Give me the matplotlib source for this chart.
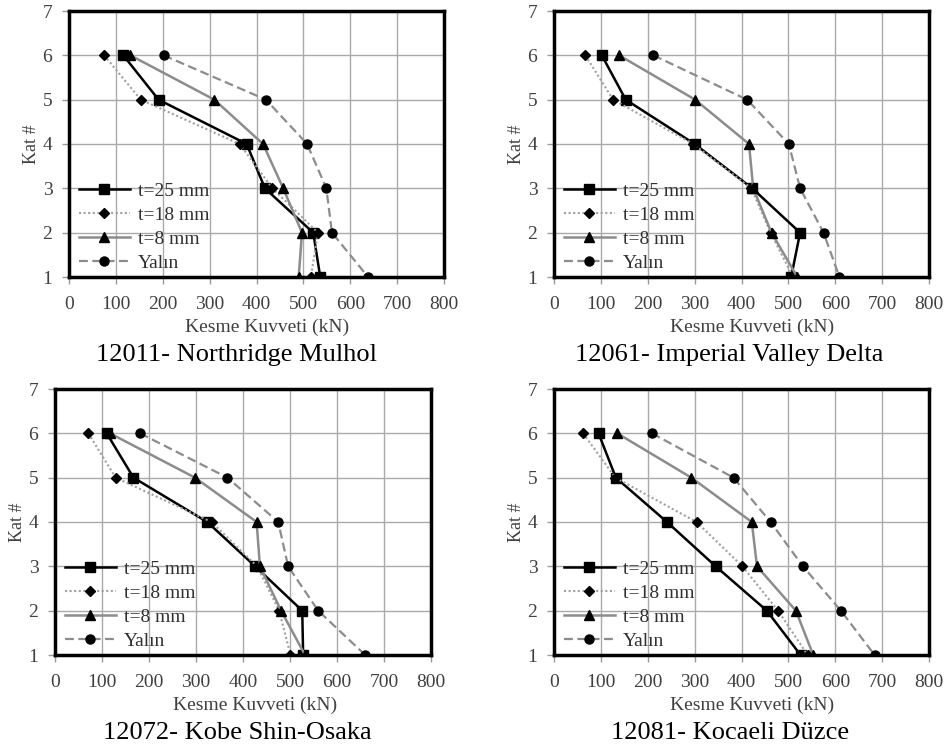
import numpy as np
import matplotlib as mpl
mpl.use('Agg')
import matplotlib.pyplot as plt

plt.rcParams['font.family'] = ['Liberation Serif', 'DejaVu Serif']

floors = [6, 5, 4, 3, 2, 1]
labels = ['t=25 mm', 't=18 mm', 't=8 mm', 'Yalın']

# 12011- Northridge Mulhol
north_t25 = [116, 191, 379, 418, 521, 536]
north_t18 = [75, 153, 364, 434, 531, 516]
north_t8 = [131, 310, 414, 457, 497, 490]
north_bare = [202, 420, 508, 549, 561, 638]

# 12061- Imperial Valley Delta
imper_t25 = [102, 153, 300, 423, 525, 506]
imper_t18 = [67, 126, 297, 421, 462, 510]
imper_t8 = [139, 301, 416, 425, 464, 519]
imper_bare = [212, 412, 501, 525, 575, 609]

# 12072- Kobe Shin-Osaka
kobe_t25 = [110, 167, 324, 426, 526, 528]
kobe_t18 = [71, 129, 333, 430, 477, 501]
kobe_t8 = [117, 298, 429, 436, 481, 532]
kobe_bare = [181, 367, 475, 496, 560, 660]

# 12081- Kocaeli Düzce
koca_t25 = [95, 132, 241, 345, 454, 526]
koca_t18 = [62, 131, 304, 402, 478, 541]
koca_t8 = [135, 293, 422, 433, 516, 553]
koca_bare = [209, 383, 462, 531, 612, 684]

panels = [
    ('12011- Northridge Mulhol', [north_t25, north_t18, north_t8, north_bare]),
    ('12061- Imperial Valley Delta', [imper_t25, imper_t18, imper_t8, imper_bare]),
    ('12072- Kobe Shin-Osaka', [kobe_t25, kobe_t18, kobe_t8, kobe_bare]),
    ('12081- Kocaeli Düzce', [koca_t25, koca_t18, koca_t8, koca_bare]),
]

styles = [
    dict(color='black', ls='-', lw=1.8, marker='s', ms=6.5),
    dict(color='#a0a0a0', ls=(0, (1, 1.2)), lw=1.5, marker='D', ms=5),
    dict(color='#8c8c8c', ls='-', lw=1.8, marker='^', ms=7),
    dict(color='#8c8c8c', ls=(0, (4, 2)), lw=1.6, marker='o', ms=6.5),
]

W, H = 947, 751
# axes boxes in pixels: left, right, top, bottom
boxes = [(69, 444, 11, 277), (554, 929, 11, 277), (55, 431, 389, 655), (554, 929, 389, 655)]
title_pos = [(237, 355), (729, 355), (237, 733), (730, 733)]
xlab_x = [267, 752, 255, 752]

fig = plt.figure(figsize=(W / 100, H / 100), dpi=100)
tc = '#404040'
for i, (title, series) in enumerate(panels):
    l, r, t, b = boxes[i]
    ax = fig.add_axes([l / W, 1 - b / H, (r - l) / W, (b - t) / H])
    for vals, lab, st in zip(series, labels, styles):
        ax.plot(vals, floors, label=lab, color=st['color'], ls=st['ls'], lw=st['lw'],
                marker=st['marker'], ms=st['ms'], mfc='black', mec='black', zorder=3)
    ax.set_xlim(0, 800)
    ax.set_ylim(1, 7)
    ax.set_xticks(np.arange(0, 801, 100))
    ax.set_yticks(np.arange(1, 8, 1))
    ax.grid(True, color='#aaaaaa', lw=1.0)
    ax.set_axisbelow(True)
    for s in ax.spines.values():
        s.set_linewidth(2.5)
        s.set_color('black')
    ax.tick_params(axis='both', labelsize=14, labelcolor=tc, length=5, width=1, color='#9a9a9a')
    ax.tick_params(axis='x', pad=9)
    ax.tick_params(axis='y', pad=7)
    ax.set_xlabel('Kesme Kuvveti (kN)', fontsize=14, color=tc)
    ax.xaxis.set_label_coords((xlab_x[i] - l) / (r - l), -0.155)
    ax.set_ylabel('Kat #', fontsize=13, color=tc)
    ax.yaxis.set_label_coords(-0.077, 0.5)
    leg = ax.legend(loc='upper left', bbox_to_anchor=(0.0, 0.392), frameon=False,
                    fontsize=14, handlelength=2.65, handletextpad=0.4,
                    labelspacing=0.33, borderpad=0.2, borderaxespad=0.3)
    for txt in leg.get_texts():
        txt.set_color('#303030')
    tx, ty = title_pos[i]
    fig.text(tx / W, 1 - ty / H, title, fontsize=19, ha='center', va='center', color='black')

plt.savefig('out.png', dpi=100)
